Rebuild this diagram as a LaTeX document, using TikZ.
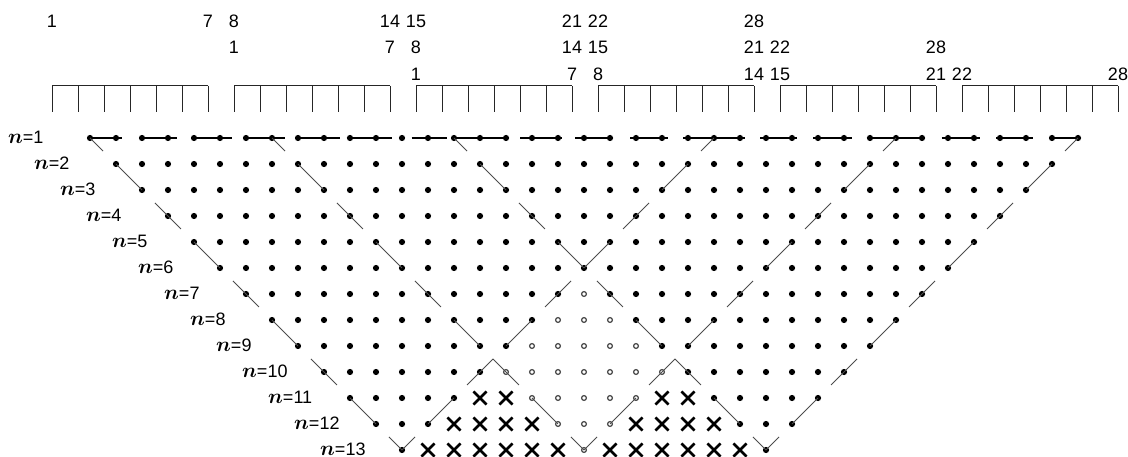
\documentclass[tikz,border=0pt]{standalone}
\usepackage{fontspec}
\setmainfont{Liberation Sans}
\usetikzlibrary{shapes.misc}

\tikzset{
  bdot/.style={circle, fill=black, inner sep=0pt, minimum size=6.2pt},
  odot/.style={circle, draw=black!75, line width=1.2pt, inner sep=0pt, minimum size=4.8pt},
  xdot/.style={cross out, draw=black, line width=2.6pt, inner sep=0pt, minimum size=10.5pt},
  diag/.style={draw=black!70, line width=0.9pt, dash pattern=on 36.77pt off 18.38pt, dash phase=18.38pt},
  pairline/.style={draw=black, line width=1.1pt},
  tickline/.style={draw=black!85, line width=1pt},
  num/.style={inner sep=0pt, font=\fontsize{18}{20}\selectfont},
  rowlabel/.style={anchor=west, inner sep=0pt, font=\fontsize{18}{20}\selectfont}
}

\begin{document}
\begin{tikzpicture}[x=1pt, y=-1pt]
\useasboundingbox (0,0) rectangle (1128,457);

\foreach \g in {0,...,5}{
  \draw[tickline] (52+182*\g,86) -- (208+182*\g,86);
  \foreach \k in {0,...,6}
    \draw[tickline] (52+182*\g+26*\k,86) -- (52+182*\g+26*\k,112);
}

\foreach \r/\y in {0/21,1/47.5,2/74}
  \foreach \b in {0,...,3}{
    \pgfmathtruncatemacro\g{\r+\b}
    \pgfmathtruncatemacro\lo{7*\b+1}
    \pgfmathtruncatemacro\hi{7*\b+7}
    \node[num] (top\r-\lo) at (52+182*\g,\y) {\lo};
    \node[num] (top\r-\hi) at (208+182*\g,\y) {\hi};
  }

\foreach \n in {1,...,13}{
  \node[rowlabel] (lab\n) at (8+26*\n-26,137.5+26*\n-26)
    {{\fontsize{22}{24}\selectfont\boldmath$n$}=\n};
  \pgfmathtruncatemacro\cfirst{\n-1}
  \pgfmathtruncatemacro\clast{39-\n}
  \foreach \c in {\cfirst,...,\clast}{
    \pgfmathtruncatemacro\inside{and(\c>(25-\n), \c<(13+\n))}
    \pgfmathtruncatemacro\crossed{and(\inside, or(\c<(\n+6), \c>(32-\n)))}
    \ifnum\crossed=1
      \node[xdot] (d\n-\c) at (90+26*\c,138+26*\n-26) {};
    \else\ifnum\inside=1
      \node[odot] (d\n-\c) at (90+26*\c,138+26*\n-26) {};
    \else
      \node[bdot] (d\n-\c) at (90+26*\c,138+26*\n-26) {};
    \fi\fi
  }
}

\foreach \a/\b/\l/\r in {0/1/0/5.5, 2/3/2.7/8.5, 4/5/2.3/11.5, 6/7/2.7/13, 8/9/3/16,
    10/11/3.3/15.5, 13/13/16.3/18.5, 14/16/0/0.5, 17/18/12/3.5, 19/20/9/3,
    21/22/6/6, 23/25/5/5, 26/27/6/4.5, 28/29/5/7.5, 30/32/3.3/3,
    33/34/6.3/6, 35/36/4/7, 37/38/2/2}
  \draw[pairline] ([xshift=-\l pt]d1-\a.center) -- ([xshift=\r pt]d1-\b.center);

\foreach \s/\e in {0/12, 7/19, 14/26, 24/12, 31/19, 38/26}
  \draw[diag] (d1-\s.center) -- (d13-\e.center);

\end{tikzpicture}
\end{document}
